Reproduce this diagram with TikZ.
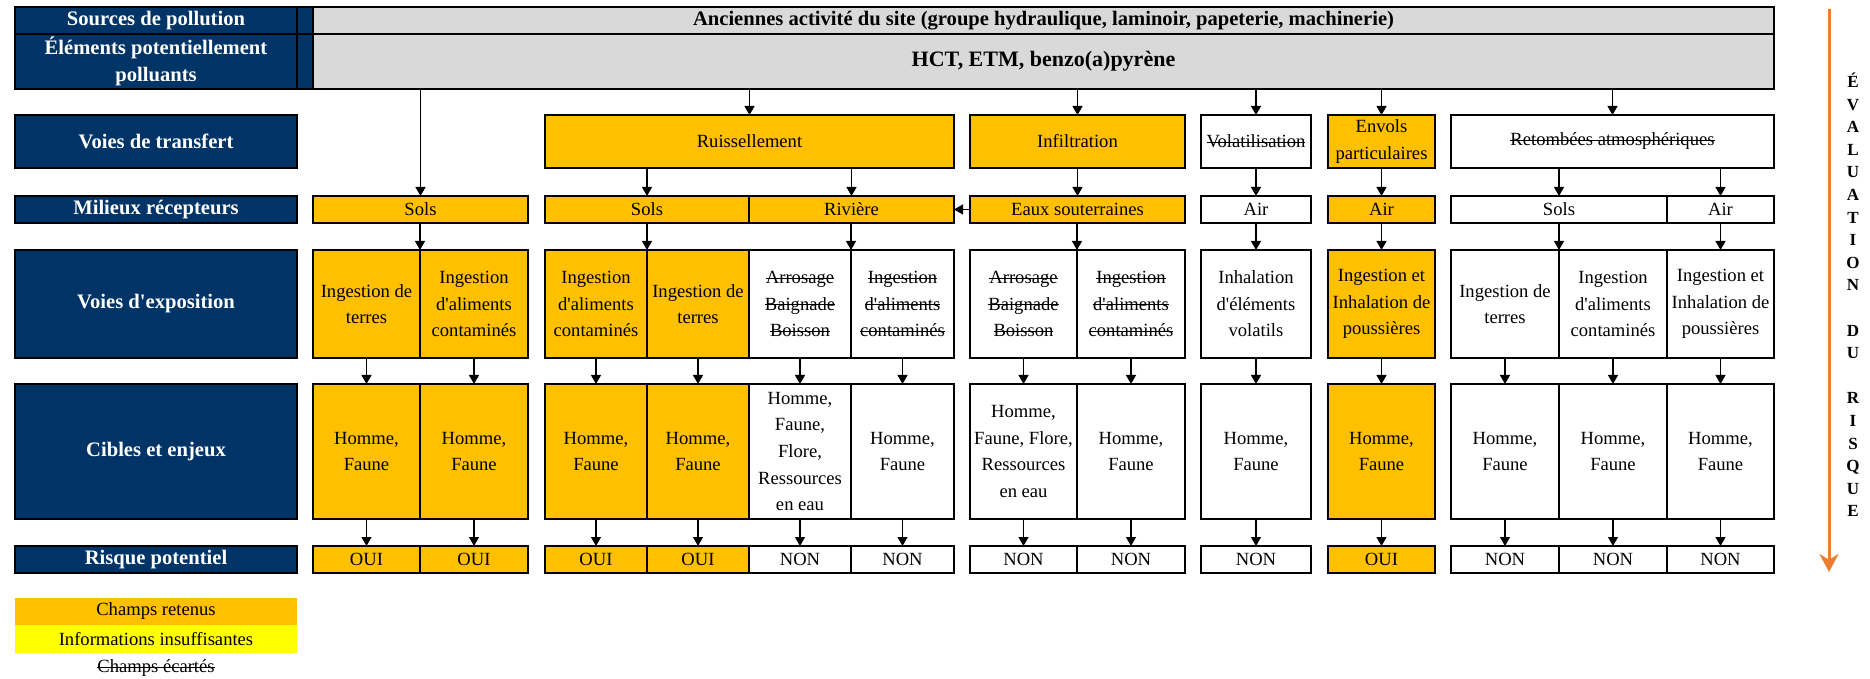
\documentclass[tikz,border=0pt]{standalone}
\usepackage{fontspec}
\setmainfont{Liberation Serif}[Ligatures=TeXOff]
\usetikzlibrary{arrows.meta}
\definecolor{navy}{RGB}{0,51,102}
\definecolor{gold}{RGB}{255,192,0}
\definecolor{greyc}{RGB}{217,217,217}
\definecolor{yel}{RGB}{255,255,0}
\definecolor{evorange}{RGB}{237,125,49}
\newcommand\barred[1]{\setbox0\hbox{#1}\rlap{\rule[0.55ex]{\wd0}{0.45pt}}\box0}
\newcommand\cellfont{\fontsize{9.3}{13.3}\selectfont}
\newcommand\lblfont{\fontsize{10.3}{13.5}\selectfont\bfseries}
\newcommand\srcfont{\fontsize{10.3}{13.5}\selectfont\bfseries}
\newcommand\hctfont{\fontsize{11}{13.5}\selectfont\bfseries}
\newcommand\letfont{\fontsize{8.5}{11.3}\selectfont\bfseries}
\newcommand\cellbox[7]{\node[#6, minimum width={(#4-#2)*0.5pt}, minimum height={(#5-#3)*0.5pt}] (#1) at ({(#2+#4)/2},{(#3+#5)/2}) {#7};}
\tikzset{
  box/.style={draw=black, line width=1.2pt, inner sep=0pt, outer sep=0pt, align=center, font=\cellfont, text=black},
  org/.style={box, fill=gold},
  wht/.style={box, fill=white},
  gry/.style={box, fill=greyc, font=\srcfont},
  lbl/.style={box, fill=navy, text=white, font=\lblfont},
  leg/.style={inner sep=0pt, outer sep=0pt, align=center, font=\cellfont},
  arr/.style={-{Triangle[length=4.5pt,width=5pt]}, line width=0.6pt},
  evarr/.style={-{Stealth[length=9pt,width=9.5pt]}, line width=1.5pt, draw=evorange},
  vlet/.style={inner sep=0pt, align=center, font=\letfont},
}
\begin{document}
\begin{tikzpicture}[x=0.5pt,y=-0.5pt]
\useasboundingbox (0,0) rectangle (1870,679);
% header
\cellbox{srcL}{15}{7}{297}{34}{lbl}{Sources de pollution}
\cellbox{eltL}{15}{34}{297}{89}{lbl}{Éléments potentiellement\\polluants}
\cellbox{gapA}{297}{7}{313}{34}{lbl}{}
\cellbox{gapB}{297}{34}{313}{89}{lbl}{}
\cellbox{src}{313}{7}{1774}{34}{gry}{Anciennes activité du site (groupe hydraulique, laminoir, papeterie, machinerie)}
\cellbox{elt}{313}{34}{1774}{89}{gry, font=\hctfont}{HCT, ETM, benzo(a)pyrène}
% left labels
\cellbox{transL}{15}{115}{297}{168}{lbl}{Voies de transfert}
\cellbox{milL}{15}{196}{297}{223}{lbl}{Milieux récepteurs}
\cellbox{expL}{15}{250}{297}{358}{lbl}{Voies d'exposition}
\cellbox{cibL}{15}{384}{297}{519}{lbl}{Cibles et enjeux}
\cellbox{risL}{15}{546}{297}{573}{lbl}{Risque potentiel}
% transfer
\cellbox{ruis}{545}{115}{954}{168}{org}{Ruissellement}
\cellbox{infil}{970}{115}{1185}{168}{org}{Infiltration}
\cellbox{vola}{1201}{115}{1311}{168}{wht}{\barred{Volatilisation}}
\cellbox{envol}{1328}{115}{1435}{168}{org}{Envols\\particulaires}
\cellbox{retom}{1451}{115}{1774}{168}{wht}{\barred{Retombées atmosphériques}}
% milieux
\cellbox{m1}{313}{196}{528}{223}{org}{Sols}
\cellbox{m2}{545}{196}{749}{223}{org}{Sols}
\cellbox{m3}{749}{196}{954}{223}{org}{Rivière}
\cellbox{m4}{970}{196}{1185}{223}{org}{Eaux souterraines}
\cellbox{m5}{1201}{196}{1311}{223}{wht}{Air}
\cellbox{m6}{1328}{196}{1435}{223}{org}{Air}
\cellbox{m7}{1451}{196}{1667}{223}{wht}{Sols}
\cellbox{m8}{1667}{196}{1774}{223}{wht}{Air}
% exposition
\cellbox{e1}{313}{250}{420}{358}{org}{Ingestion de\\terres}
\cellbox{e2}{420}{250}{528}{358}{org}{Ingestion\\d'aliments\\contaminés}
\cellbox{e3}{545}{250}{647}{358}{org}{Ingestion\\d'aliments\\contaminés}
\cellbox{e4}{647}{250}{749}{358}{org}{Ingestion de\\terres}
\cellbox{e5}{749}{250}{851}{358}{wht}{\barred{Arrosage}\\\barred{Baignade}\\\barred{Boisson}}
\cellbox{e6}{851}{250}{954}{358}{wht}{\barred{Ingestion}\\\barred{d'aliments}\\\barred{contaminés}}
\cellbox{e7}{970}{250}{1077}{358}{wht}{\barred{Arrosage}\\\barred{Baignade}\\\barred{Boisson}}
\cellbox{e8}{1077}{250}{1185}{358}{wht}{\barred{Ingestion}\\\barred{d'aliments}\\\barred{contaminés}}
\cellbox{e9}{1201}{250}{1311}{358}{wht}{Inhalation\\d'éléments\\volatils}
\cellbox{e10}{1328}{250}{1435}{358}{org}{Ingestion et\\Inhalation de\\poussières}
\cellbox{e11}{1451}{250}{1559}{358}{wht}{Ingestion de\\terres}
\cellbox{e12}{1559}{250}{1667}{358}{wht}{Ingestion\\d'aliments\\contaminés}
\cellbox{e13}{1667}{250}{1774}{358}{wht}{Ingestion et\\Inhalation de\\poussières}
% cibles
\cellbox{c1}{313}{384}{420}{519}{org}{Homme,\\Faune}
\cellbox{c2}{420}{384}{528}{519}{org}{Homme,\\Faune}
\cellbox{c3}{545}{384}{647}{519}{org}{Homme,\\Faune}
\cellbox{c4}{647}{384}{749}{519}{org}{Homme,\\Faune}
\cellbox{c5}{749}{384}{851}{519}{wht}{Homme,\\Faune,\\Flore,\\Ressources\\en eau}
\cellbox{c6}{851}{384}{954}{519}{wht}{Homme,\\Faune}
\cellbox{c7}{970}{384}{1077}{519}{wht}{Homme,\\Faune, Flore,\\Ressources\\en eau}
\cellbox{c8}{1077}{384}{1185}{519}{wht}{Homme,\\Faune}
\cellbox{c9}{1201}{384}{1311}{519}{wht}{Homme,\\Faune}
\cellbox{c10}{1328}{384}{1435}{519}{org}{Homme,\\Faune}
\cellbox{c11}{1451}{384}{1559}{519}{wht}{Homme,\\Faune}
\cellbox{c12}{1559}{384}{1667}{519}{wht}{Homme,\\Faune}
\cellbox{c13}{1667}{384}{1774}{519}{wht}{Homme,\\Faune}
% risque
\cellbox{r1}{313}{546}{420}{573}{org}{OUI}
\cellbox{r2}{420}{546}{528}{573}{org}{OUI}
\cellbox{r3}{545}{546}{647}{573}{org}{OUI}
\cellbox{r4}{647}{546}{749}{573}{org}{OUI}
\cellbox{r5}{749}{546}{851}{573}{wht}{NON}
\cellbox{r6}{851}{546}{954}{573}{wht}{NON}
\cellbox{r7}{970}{546}{1077}{573}{wht}{NON}
\cellbox{r8}{1077}{546}{1185}{573}{wht}{NON}
\cellbox{r9}{1201}{546}{1311}{573}{wht}{NON}
\cellbox{r10}{1328}{546}{1435}{573}{org}{OUI}
\cellbox{r11}{1451}{546}{1559}{573}{wht}{NON}
\cellbox{r12}{1559}{546}{1667}{573}{wht}{NON}
\cellbox{r13}{1667}{546}{1774}{573}{wht}{NON}
% arrows: pollutants -> transfer
\draw[arr] (m1.north |- elt.south) -- (m1.north);
\foreach \t in {ruis,infil,vola,envol,retom}
  \draw[arr] (\t.north |- elt.south) -- (\t.north);
% transfer -> milieux
\draw[arr] (m2.north |- ruis.south) -- (m2.north);
\draw[arr] (m3.north |- ruis.south) -- (m3.north);
\draw[arr] (infil.south) -- (m4.north);
\draw[arr] (vola.south) -- (m5.north);
\draw[arr] (envol.south) -- (m6.north);
\draw[arr] (m7.north |- retom.south) -- (m7.north);
\draw[arr] (m8.north |- retom.south) -- (m8.north);
\draw[arr] (m4.west) -- (m3.east);
% milieux -> exposition
\draw[arr] (e1.north east |- m1.south) -- (e1.north east);
\draw[arr] (e3.north east |- m2.south) -- (e3.north east);
\draw[arr] (e5.north east |- m3.south) -- (e5.north east);
\draw[arr] (e7.north east |- m4.south) -- (e7.north east);
\draw[arr] (e9.north |- m5.south) -- (e9.north);
\draw[arr] (e10.north |- m6.south) -- (e10.north);
\draw[arr] (e11.north east |- m7.south) -- (e11.north east);
\draw[arr] (e13.north |- m8.south) -- (e13.north);
% exposition -> cibles -> risque
\foreach \i in {1,...,13} {
  \draw[arr] (e\i.south) -- (c\i.north);
  \draw[arr] (c\i.south) -- (r\i.north);
}
% legend
\cellbox{legA}{15}{598}{297}{625}{leg, fill=gold}{Champs retenus}
\cellbox{legB}{15}{625}{297}{653}{leg, fill=yel}{Informations insuffisantes}
\node[leg] (legC) at (156,668) {\barred{Champs écartés}};
% evaluation arrow
\coordinate (evtop) at (1829,9);
\coordinate (evbot) at (1829,572);
\draw[evarr] (evtop) -- (evbot);
\node[vlet] (evtxt) at (1853,295) {É\\V\\A\\L\\U\\A\\T\\I\\O\\N\\\mbox{}\\D\\U\\\mbox{}\\R\\I\\S\\Q\\U\\E};
\end{tikzpicture}
\end{document}
